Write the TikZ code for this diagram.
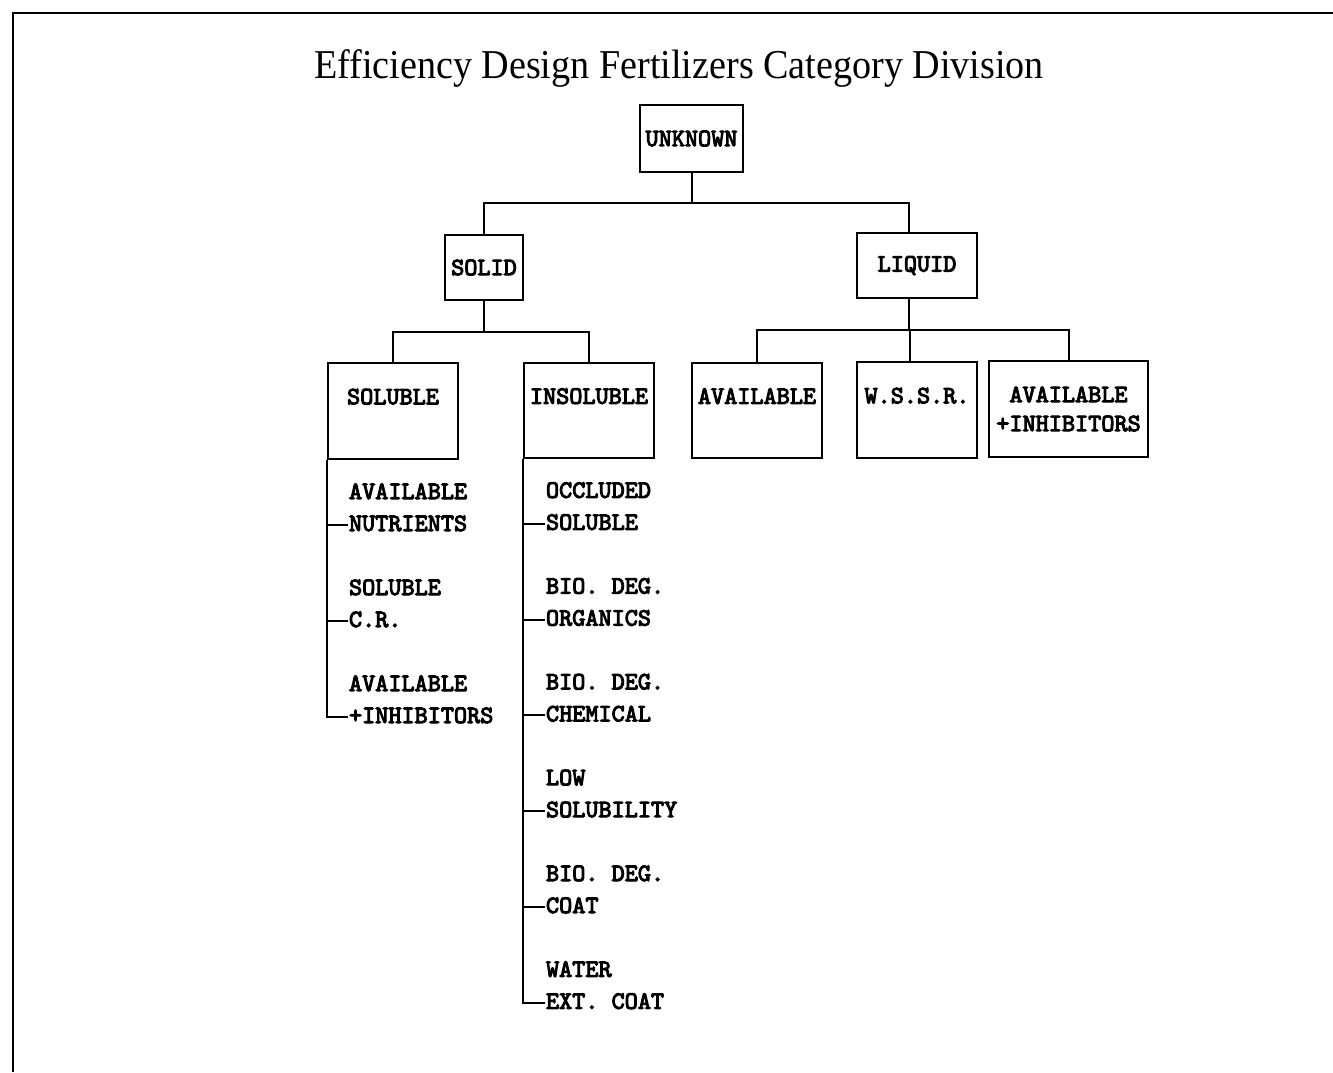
\documentclass[tikz,border=0pt]{standalone}
\usepackage{fontspec}
\setmainfont{Liberation Serif}
\newfontfamily\titlefont[FakeStretch=0.93]{Liberation Serif}
\newfontfamily\typefont[FakeBold=4]{lmmono10-regular.otf}

\begin{document}
\begin{tikzpicture}[x=1pt, y=-1pt, line width=2pt,
  box/.style={draw, inner sep=0pt, align=center,
    font=\typefont\fontsize{25}{29}\selectfont},
  item/.style={inner sep=0pt, anchor=south west, text depth=0pt, align=left,
    font=\typefont\fontsize{25}{32}\selectfont}]
  \useasboundingbox (0,0) rectangle (1333,1072);
  % frame
  \draw (13,1072) -- (13,13) -- (1333,13);
  \node[anchor=base, font=\titlefont\fontsize{41}{48}\selectfont] (title) at (679,78)
    {Efficiency Design Fertilizers Category Division};
  % top levels
  \node[box, minimum width=103, minimum height=67] (unknown) at (691.5,138.5) {UNKNOWN};
  \node[box, minimum width=78, minimum height=65] (solid) at (484,267.5) {SOLID};
  \node[box, minimum width=120, minimum height=65] (liquid) at (917,265.5) {LIQUID};
  % second level boxes
  \node[box, minimum width=130, minimum height=96] (soluble) at (393,411) {SOLUBLE\\\mbox{}};
  \node[box, minimum width=130, minimum height=95] (insoluble) at (589,410.5) {INSOLUBLE\\\mbox{}};
  \node[box, minimum width=130, minimum height=95] (avail) at (757,410.5) {AVAILABLE\\\mbox{}};
  \node[box, minimum width=120, minimum height=96] (wssr) at (917,410) {W.S.S.R.\\\mbox{}};
  \node[box, minimum width=159, minimum height=96] (availinh) at (1068.5,409) {AVAILABLE\\+INHIBITORS};
  % tree lines
  \draw (unknown.south) -- ++(0,30) -| (solid.north);
  \draw (unknown.south) -- ++(0,30) -| ([xshift=-8pt]liquid.north);
  \draw (solid.south) -- ++(0,31) -| (soluble.north);
  \draw (solid.south) -- ++(0,31) -| (insoluble.north);
  \draw ([xshift=-8pt]liquid.south) -- ++(0,31) -| (avail.north);
  \draw ([xshift=-8pt]liquid.south) -- ++(0,31) -| ([xshift=-7pt]wssr.north);
  \draw ([xshift=-8pt]liquid.south) -- ++(0,31) -| (availinh.north);
  % soluble list
  \foreach \t [count=\i] in {{AVAILABLE\\NUTRIENTS},{SOLUBLE\\C.R.},{AVAILABLE\\+INHIBITORS}} {
    \node[item] (sol\i) at (348,{436+96*\i}) {\t};
    \draw ([yshift=7pt]sol\i.south west) -| (soluble.south west);
  }
  % insoluble list
  \foreach \t [count=\i] in {{OCCLUDED\\SOLUBLE},{BIO. DEG.\\ORGANICS},{BIO. DEG.\\CHEMICAL},
      {LOW\\SOLUBILITY},{BIO. DEG.\\COAT},{WATER\\EXT. COAT}} {
    \node[item] (ins\i) at (545,{435+95.8*\i}) {\t};
    \draw ([yshift=7pt]ins\i.south west) -| (insoluble.south west);
  }
\end{tikzpicture}
\end{document}
